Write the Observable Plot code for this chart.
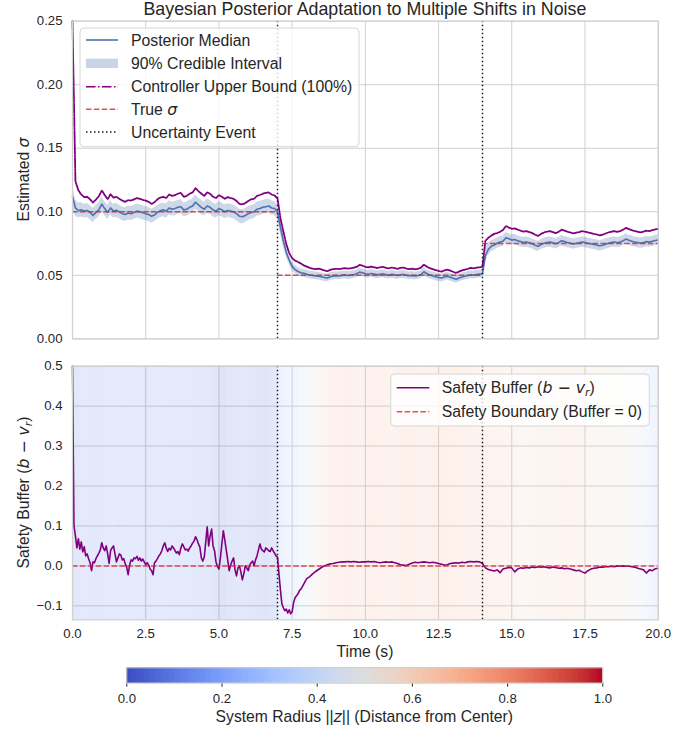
<!DOCTYPE html>
<html><head><meta charset="utf-8">
<script src="https://cdn.jsdelivr.net/npm/d3@7"></script>
<script src="https://cdn.jsdelivr.net/npm/@observablehq/plot@0.6"></script>
<style>
html,body{margin:0;padding:0;background:#fff;}
#fig{position:relative;width:697px;height:733px;overflow:hidden;font-family:"Liberation Sans",Arial,sans-serif;}
#fig svg{position:absolute;left:0;}
#overlay text{font-family:"Liberation Sans",Arial,sans-serif;fill:#262626;}
#overlay .m{font-family:"DejaVu Sans",sans-serif;font-style:italic;}
</style></head><body>
<div id="fig"></div>
<script>
// ---------- DATA ----------
// Posterior (top panel), sampled every 0.1 s from t = 0.0 to 20.0
const sigmaMedian = [
0.112,0.103,0.101,0.1015,0.1005,0.101,0.0995,0.097,0.0995,0.1015,
0.106,0.1025,0.0995,0.103,0.1005,0.1012,0.0998,0.0985,0.0978,0.099,
0.0985,0.0995,0.1005,0.1,0.0992,0.0985,0.0978,0.0965,0.0975,0.0995,
0.1008,0.1015,0.1005,0.103,0.102,0.1025,0.1035,0.104,0.1015,0.102,
0.1035,0.1045,0.1075,0.1055,0.1035,0.102,0.1045,0.1035,0.1015,0.1005,
0.1025,0.1015,0.1,0.101,0.1005,0.1,0.0985,0.0965,0.096,0.097,
0.0985,0.0995,0.1,0.102,0.1025,0.1035,0.104,0.1045,0.103,0.1025,
0.1,0.088,0.077,0.068,0.062,0.057,0.0545,0.053,0.052,0.0515,
0.0508,0.0502,0.0498,0.0495,0.0492,0.0488,0.0482,0.0478,0.0488,0.0494,
0.0497,0.0495,0.0499,0.0503,0.0498,0.0501,0.0505,0.0512,0.0525,0.052,
0.0512,0.0508,0.0514,0.0509,0.0503,0.0508,0.0512,0.0505,0.0501,0.0507,
0.0503,0.0498,0.0504,0.0507,0.05,0.0496,0.0499,0.0494,0.0498,0.0506,
0.0528,0.0512,0.0502,0.0496,0.0488,0.0482,0.0478,0.0486,0.0492,0.0484,
0.0476,0.0468,0.0478,0.0486,0.0492,0.0498,0.0504,0.0501,0.0506,0.0509,
0.0512,0.0655,0.0705,0.0728,0.0738,0.0752,0.0762,0.0768,0.0795,0.0788,
0.0778,0.0781,0.0772,0.0765,0.0758,0.0762,0.0755,0.0748,0.0736,0.0728,
0.0742,0.0752,0.0758,0.0762,0.0755,0.0748,0.0757,0.0772,0.0765,0.0758,
0.0752,0.0746,0.0751,0.0755,0.0762,0.0758,0.0752,0.0748,0.0742,0.0738,
0.0732,0.0736,0.0745,0.0752,0.0758,0.0762,0.0756,0.0761,0.0772,0.0785,
0.0776,0.0768,0.0762,0.0758,0.0752,0.0758,0.0765,0.0762,0.0768,0.0774,
0.0778];
const sigmaHigh = [
0.120,0.1095,0.1068,0.1072,0.106,0.1066,0.1052,0.1026,0.1049,0.1071,
0.1116,0.1079,0.1051,0.1086,0.1059,0.1068,0.1052,0.104,0.1032,0.1046,
0.1039,0.1051,0.106,0.1055,0.1048,0.1039,0.1034,0.1019,0.1031,0.1049,
0.1064,0.1069,0.1061,0.1086,0.1074,0.1081,0.1089,0.1096,0.1069,0.1076,
0.1089,0.1101,0.1131,0.1109,0.1091,0.1074,0.1101,0.1089,0.1071,0.1059,
0.1081,0.1069,0.1056,0.1064,0.1061,0.1054,0.1041,0.1019,0.1016,0.1024,
0.1041,0.1049,0.1056,0.1074,0.1081,0.1089,0.1096,0.1099,0.1086,0.1079,
0.1055,0.0935,0.0815,0.072,0.0655,0.0605,0.0578,0.0562,0.0552,0.0546,
0.0539,0.0532,0.0529,0.0525,0.0523,0.0518,0.0513,0.0508,0.0519,0.0524,
0.0528,0.0525,0.053,0.0533,0.0529,0.0531,0.0536,0.0542,0.0556,0.055,
0.0543,0.0538,0.0545,0.0539,0.0534,0.0538,0.0543,0.0535,0.0532,0.0537,
0.0534,0.0528,0.0535,0.0537,0.0531,0.0526,0.053,0.0524,0.0529,0.0536,
0.0559,0.0542,0.0533,0.0526,0.0519,0.0512,0.0509,0.0516,0.0523,0.0514,
0.0507,0.0498,0.0509,0.0516,0.0523,0.0528,0.0535,0.0531,0.0537,0.0539,
0.0545,0.0705,0.0752,0.0771,0.078,0.0793,0.0803,0.0809,0.0836,0.0829,
0.0818,0.0822,0.0812,0.0806,0.0798,0.0803,0.0795,0.0788,0.0777,0.0768,
0.0782,0.0793,0.0798,0.0803,0.0795,0.0789,0.0797,0.0813,0.0805,0.0799,
0.0792,0.0787,0.0791,0.0796,0.0802,0.0799,0.0792,0.0789,0.0782,0.0779,
0.0772,0.0777,0.0785,0.0793,0.0798,0.0803,0.0796,0.0802,0.0812,0.0826,
0.0816,0.0809,0.0802,0.0799,0.0792,0.0799,0.0805,0.0803,0.0808,0.0815,
0.0818];
const sigmaLow = [
0.104,0.0965,0.0952,0.0958,0.095,0.0954,0.0938,0.0914,0.0941,0.0959,
0.1004,0.0971,0.0939,0.0974,0.0951,0.0956,0.0944,0.093,0.0924,0.0934,
0.0931,0.0939,0.095,0.0945,0.0936,0.0931,0.0922,0.0911,0.0919,0.0941,
0.0952,0.0961,0.0949,0.0974,0.0966,0.0969,0.0981,0.0984,0.0961,0.0964,
0.0981,0.0989,0.1019,0.1001,0.0979,0.0966,0.0989,0.0981,0.0959,0.0951,
0.0969,0.0961,0.0944,0.0956,0.0949,0.0946,0.0929,0.0911,0.0904,0.0916,
0.0929,0.0941,0.0944,0.0966,0.0969,0.0981,0.0984,0.0991,0.0974,0.0971,
0.0945,0.0825,0.0725,0.064,0.0585,0.0535,0.0512,0.0498,0.0488,0.0484,
0.0478,0.0471,0.0468,0.0464,0.0462,0.0457,0.0452,0.0447,0.0458,0.0463,
0.0467,0.0464,0.0469,0.0472,0.0468,0.047,0.0475,0.0481,0.0495,0.0489,
0.0482,0.0477,0.0484,0.0478,0.0473,0.0477,0.0482,0.0474,0.0471,0.0476,
0.0473,0.0467,0.0474,0.0476,0.047,0.0465,0.0469,0.0463,0.0468,0.0475,
0.0498,0.0481,0.0472,0.0465,0.0458,0.0451,0.0448,0.0455,0.0462,0.0453,
0.0446,0.0437,0.0448,0.0455,0.0462,0.0467,0.0474,0.047,0.0476,0.0478,
0.0482,0.0605,0.0658,0.0685,0.0696,0.0711,0.0721,0.0727,0.0754,0.0747,
0.0738,0.074,0.0732,0.0724,0.0718,0.0721,0.0715,0.0708,0.0695,0.0688,
0.0702,0.0711,0.0718,0.0721,0.0715,0.0707,0.0717,0.0731,0.0725,0.0717,
0.0712,0.0705,0.0711,0.0714,0.0722,0.0717,0.0712,0.0707,0.0702,0.0697,
0.0692,0.0695,0.0705,0.0711,0.0718,0.0721,0.0716,0.072,0.0732,0.0744,
0.0736,0.0727,0.0722,0.0717,0.0712,0.0717,0.0725,0.0721,0.0728,0.0733,
0.0738];
const controllerUpper = [
0.25,0.124,0.117,0.1135,0.1115,0.1118,0.1098,0.1072,0.1096,0.1122,
0.1168,0.1132,0.1098,0.1138,0.1112,0.1118,0.1102,0.1088,0.1078,0.1092,
0.1088,0.1098,0.1108,0.1102,0.1094,0.1088,0.1078,0.1062,0.1075,0.1098,
0.1112,0.1118,0.1108,0.1136,0.1125,0.1131,0.1142,0.1148,0.1118,0.1125,
0.1142,0.1152,0.1186,0.1162,0.1142,0.1125,0.1152,0.1142,0.1118,0.1108,
0.1131,0.1118,0.1102,0.1115,0.1108,0.1102,0.1085,0.1062,0.1058,0.1068,
0.1085,0.1098,0.1102,0.1125,0.1132,0.1142,0.1148,0.1152,0.1136,0.1128,
0.1105,0.095,0.0845,0.0745,0.0675,0.0635,0.0615,0.0605,0.0592,0.0578,
0.0568,0.0558,0.0552,0.0548,0.0552,0.0546,0.0538,0.0532,0.0542,0.0548,
0.0551,0.0549,0.0553,0.0557,0.0552,0.0555,0.0559,0.0566,0.0581,0.0576,
0.0566,0.0562,0.0569,0.0563,0.0557,0.0562,0.0567,0.0559,0.0555,0.0561,
0.0557,0.0551,0.0558,0.0561,0.0553,0.0549,0.0552,0.0547,0.0551,0.056,
0.0584,0.0567,0.0556,0.0549,0.054,0.0534,0.0529,0.0538,0.0545,0.0536,
0.0527,0.0518,0.0529,0.0538,0.0545,0.0551,0.0558,0.0555,0.056,0.0563,
0.0567,0.0772,0.0795,0.0812,0.0826,0.0832,0.0842,0.0856,0.0888,0.0876,
0.0866,0.0869,0.0859,0.0851,0.0843,0.0848,0.084,0.0832,0.0819,0.081,
0.0826,0.0837,0.0843,0.0848,0.084,0.0832,0.0842,0.0859,0.0851,0.0843,
0.0837,0.083,0.0836,0.084,0.0848,0.0843,0.0837,0.0832,0.0826,0.0821,
0.0815,0.0819,0.0829,0.0837,0.0843,0.0848,0.0841,0.0847,0.0859,0.0873,
0.0863,0.0855,0.0848,0.0843,0.0837,0.0843,0.0851,0.0848,0.0855,0.0861,
0.0866];

// True sigma regimes and uncertainty events
const regimeStart = [0, 7, 14];
const regimeEnd = [7, 14, 20];
const trueSigma = [0.1, 0.05, 0.075];
const eventTimes = [7, 14];

// Safety buffer (bottom panel): every 0.05 s for t = 0..8, then every 0.1 s for t = 8.1..20
const bufferEarly = [
0.5,0.1,0.075,0.045,0.068,0.042,0.06,0.035,0.048,0.025,0.03,0.018,0.008,-0.012,0.01,0.008,0.018,0.025,0.032,0.04,
0.058,0.045,0.038,0.05,0.03,0.006,0.038,0.045,0.05,0.03,0.01,0.02,0.03,0.027,0.015,0.018,0.005,-0.003,-0.022,0.002,
0.015,0.012,0.02,0.018,0.024,0.014,0.02,0.012,0.017,0.01,0.003,0.008,0.002,-0.008,-0.012,-0.022,0.008,0.012,0.018,0.025,
0.03,0.038,0.05,0.058,0.045,0.036,0.044,0.04,0.05,0.045,0.038,0.032,0.036,0.028,0.045,0.055,0.048,0.04,0.042,0.037,
0.045,0.05,0.057,0.062,0.073,0.066,0.055,0.047,0.02,0.012,0.022,0.06,0.098,0.05,0.075,0.092,0.05,0.038,0.01,-0.002,
-0.008,0.02,0.055,0.088,0.065,0.04,0.015,-0.012,0.002,0.012,0.02,-0.01,-0.025,-0.005,0.0,-0.015,-0.035,-0.02,0.0,-0.005,
-0.012,0.002,0.008,0.012,0.0,0.015,0.025,0.04,0.055,0.042,0.038,0.035,0.045,0.042,0.038,0.036,0.045,0.038,0.032,0.025,
0.022,-0.02,-0.06,-0.095,-0.105,-0.112,-0.108,-0.118,-0.11,-0.12,-0.115,-0.092,-0.08,-0.075,-0.07,-0.062,-0.058,-0.052,-0.045,-0.038,
-0.032];
const bufferLate = [
-0.027,-0.02,-0.014,-0.009,-0.004,0.0,0.003,0.005,0.006,0.008,
0.009,0.01,0.01,0.011,0.01,0.011,0.01,0.009,0.01,0.01,
0.011,0.01,0.011,0.009,0.008,0.009,0.01,0.009,0.01,0.008,
0.006,0.003,0.002,0.001,0.004,0.007,0.009,0.008,0.009,0.01,
0.009,0.008,0.009,0.008,0.006,0.004,0.002,0.003,0.006,0.007,
0.008,0.007,0.009,0.008,0.01,0.011,0.01,0.011,0.01,0.006,
-0.005,-0.009,-0.011,-0.013,-0.01,-0.017,-0.008,-0.006,-0.004,-0.005,
-0.015,-0.008,-0.005,-0.006,-0.004,-0.005,-0.003,-0.004,-0.002,-0.003,
-0.002,-0.004,-0.005,-0.003,-0.004,-0.006,-0.005,-0.007,-0.006,-0.008,
-0.01,-0.012,-0.011,-0.015,-0.018,-0.012,-0.008,-0.006,-0.005,-0.003,
-0.003,-0.002,-0.002,-0.001,-0.002,0.0,-0.001,0.0,-0.001,-0.001,
-0.002,-0.003,-0.006,-0.008,-0.01,-0.018,-0.01,-0.012,-0.007,-0.006];

// System radius ||z|| in 0.25 s bins (background bands)
const systemRadius = [
0.10,0.13,0.14,0.12,0.14,0.15,0.13,0.15,
0.16,0.14,0.13,0.15,0.16,0.14,0.13,0.14,
0.13,0.12,0.11,0.09,0.05,0.08,0.10,0.11,
0.09,0.08,0.07,0.10,0.28,0.32,0.36,0.42,
0.48,0.56,0.62,0.66,0.67,0.68,0.66,0.65,
0.67,0.68,0.66,0.65,0.67,0.69,0.68,0.66,
0.66,0.68,0.70,0.69,0.67,0.66,0.67,0.65,
0.64,0.65,0.63,0.60,0.58,0.57,0.57,0.58,
0.59,0.60,0.62,0.64,0.62,0.58,0.55,0.55,
0.56,0.55,0.54,0.52,0.50,0.46,0.40,0.36];

// Tick values
const timeTicks = [0, 2.5, 5, 7.5, 10, 12.5, 15, 17.5, 20];
const sigmaTicks = [0, 0.05, 0.1, 0.15, 0.2, 0.25];
const bufferTicks = [-0.1, 0, 0.1, 0.2, 0.3, 0.4, 0.5];
const radiusTicks = [0, 0.2, 0.4, 0.6, 0.8, 1.0];

// coolwarm colormap stops (palette)
const coolwarm = ["#3b4cc0","#445acc","#4d68d7","#5775e1","#6282ea","#6c8ef1","#779af7","#82a5fb","#8db0fe","#98b9ff","#a3c2ff","#aec9fd","#b8d0f9","#c2d5f4","#ccd9ee","#d5dbe6","#dddddd","#e5d8d1","#ecd3c5","#f1ccb9","#f5c4ad","#f7bba0","#f7b194","#f7a687","#f49a7b","#f18d6f","#ec7f63","#e57058","#de604d","#d55042","#cb3e38","#c0282f","#b40426"];

// ---------- BUILD ----------
const FONT = '"Liberation Sans", Arial, sans-serif';
const BLUE = "#4c72b0", RED = "#d62728", PURPLE = "purple", GRID = "#d0d0d0", INK = "#262626";
const W = 697, ML = 72, MR = 39.3;

const sigmaRows = sigmaMedian.map((m, i) => ({t: i / 10, med: m, lo: sigmaLow[i], hi: sigmaHigh[i], up: controllerUpper[i]}));
const trueRows = trueSigma.map((s, i) => ({a: regimeStart[i], b: regimeEnd[i], s}));
const bufferRows = [
  ...bufferEarly.map((v, i) => ({t: i / 20, v})),
  ...bufferLate.map((v, i) => ({t: (81 + i) / 10, v}))
];
const radiusRows = systemRadius.map((r, i) => ({a: i * 0.25, b: Math.min(20, (i + 1) * 0.25 + 0.03), r}));
const cbRows = d3.range(0, 400).map(i => ({a: i / 400, b: Math.min(1, (i + 1.6) / 400), v: (i + 0.5) / 400}));

const colorScale = {type: "linear", domain: [0, 1], interpolate: d3.piecewise(d3.interpolateRgb, coolwarm)};
const style = {background: "transparent", fontFamily: FONT, fontSize: "13.2px", color: INK, overflow: "visible"};
const gridStyle = {stroke: GRID, strokeOpacity: 1, strokeWidth: 1};
const eventStyle = {stroke: "#1a1a1a", strokeWidth: 1.5, strokeDasharray: "1.5,2.5"};
const redDash = {stroke: RED, strokeOpacity: 0.8, strokeWidth: 1.5, strokeDasharray: "5.5,2.4"};

const topPlot = Plot.plot({
  width: W, height: 345,
  marginLeft: ML, marginRight: MR, marginTop: 20.7, marginBottom: 6.7,
  style,
  x: {domain: [0, 20], axis: null},
  y: {domain: [0, 0.25], ticks: sigmaTicks, tickFormat: ".2f", tickSize: 0, tickPadding: 10, label: null},
  marks: [
    Plot.ruleX(timeTicks, gridStyle),
    Plot.ruleY(sigmaTicks, gridStyle),
    Plot.areaY(sigmaRows, {x: "t", y1: "lo", y2: "hi", fill: BLUE, fillOpacity: 0.28}),
    Plot.line(sigmaRows, {x: "t", y: "med", stroke: BLUE, strokeWidth: 1.6}),
    Plot.line(sigmaRows, {x: "t", y: "up", stroke: PURPLE, strokeWidth: 1.8, strokeDasharray: "9.6,1.3,1.5,1.3"}),
    Plot.ruleY(trueRows, {y: "s", x1: "a", x2: "b", ...redDash}),
    Plot.ruleX(eventTimes, eventStyle),
    Plot.frame({stroke: GRID, strokeWidth: 1.25})
  ]
});

const botPlot = Plot.plot({
  width: W, height: 320,
  marginLeft: ML, marginRight: MR, marginTop: 20.7, marginBottom: 45.7,
  style,
  x: {domain: [0, 20], ticks: timeTicks, tickFormat: ".1f", tickSize: 0, tickPadding: 9, label: null},
  y: {domain: [-0.135, 0.5], ticks: bufferTicks, tickFormat: ".1f", tickSize: 0, tickPadding: 10, label: null},
  color: colorScale,
  marks: [
    Plot.ruleX(timeTicks, gridStyle),
    Plot.ruleY(bufferTicks, gridStyle),
    Plot.rect(radiusRows, {x1: "a", x2: "b", fill: "r"}),
    Plot.line(bufferRows, {x: "t", y: "v", stroke: PURPLE, strokeWidth: 1.6}),
    Plot.ruleY([0], redDash),
    Plot.ruleX(eventTimes, eventStyle),
    Plot.frame({stroke: GRID, strokeWidth: 1.25})
  ]
});
// whole band layer drawn translucent as one group
botPlot.querySelectorAll('g[aria-label="rect"]').forEach(g => g.setAttribute("opacity", 0.17));

const cbPlot = Plot.plot({
  width: W, height: 73,
  marginLeft: 126.3, marginRight: 94.7, marginTop: 7.3, marginBottom: 50.3,
  style,
  x: {domain: [0, 1], ticks: radiusTicks, tickFormat: ".1f", tickSize: 4, tickPadding: 6, label: null},
  color: colorScale,
  marks: [
    Plot.rect(cbRows, {x1: "a", x2: "b", fill: "v"}),
    Plot.frame({stroke: "#cccccc", strokeWidth: 1})
  ]
});

const fig = document.getElementById("fig");
topPlot.style.top = "0px";
botPlot.style.top = "345px";
cbPlot.style.top = "660px";
fig.append(topPlot, botPlot, cbPlot);

// ---------- TEXT, LABELS, LEGENDS ----------
fig.insertAdjacentHTML("beforeend", `
<svg id="overlay" width="697" height="733" style="top:0;left:0;position:absolute;pointer-events:none">
  <text x="364.9" y="15.3" font-size="17.8" text-anchor="middle">Bayesian Posterior Adaptation to Multiple Shifts in Noise</text>
  <text transform="translate(28.5,179.5) rotate(-90)" font-size="15.7" text-anchor="middle">Estimated <tspan class="m">σ</tspan></text>
  <text transform="translate(28.5,492.5) rotate(-90)" font-size="15.7" text-anchor="middle">Safety Buffer (<tspan class="m">b</tspan><tspan font-family="DejaVu Sans"> − </tspan><tspan class="m">v</tspan><tspan class="m" font-size="11" dy="3">r</tspan><tspan dy="-3">)</tspan></text>
  <text x="364.9" y="657" font-size="15.7" text-anchor="middle">Time (s)</text>
  <text x="364.3" y="722" font-size="15.7" text-anchor="middle">System Radius ||<tspan class="m">z</tspan>|| (Distance from Center)</text>

  <rect x="80" y="28" width="279" height="118.7" rx="4" fill="white" fill-opacity="0.8" stroke="#d6d6d6" stroke-width="1"/>
  <line x1="86" x2="118" y1="40" y2="40" stroke="${BLUE}" stroke-width="1.6"/>
  <rect x="86" y="58.6" width="32" height="9.4" fill="${BLUE}" fill-opacity="0.3"/>
  <line x1="86" x2="118" y1="86.7" y2="86.7" stroke="purple" stroke-width="1.6" stroke-dasharray="9.6,2.4,1.5,2.4"/>
  <line x1="86" x2="118" y1="109.3" y2="109.3" stroke="${RED}" stroke-opacity="0.8" stroke-width="1.5" stroke-dasharray="5.5,2.4"/>
  <line x1="86" x2="118" y1="132" y2="132" stroke="#1a1a1a" stroke-width="1.5" stroke-dasharray="1.5,2.5"/>
  <text x="131" y="45.6" font-size="15.8">Posterior Median</text>
  <text x="131" y="68.9" font-size="15.8">90% Credible Interval</text>
  <text x="131" y="92.3" font-size="15.8">Controller Upper Bound (100%)</text>
  <text x="131" y="114.9" font-size="15.8">True <tspan class="m">σ</tspan></text>
  <text x="131" y="137.6" font-size="15.8">Uncertainty Event</text>

  <rect x="390.7" y="374" width="258.6" height="52" rx="4" fill="white" fill-opacity="0.8" stroke="#d6d6d6" stroke-width="1"/>
  <line x1="396.7" x2="429.3" y1="387.7" y2="387.7" stroke="purple" stroke-width="1.6"/>
  <line x1="396.7" x2="429.3" y1="411.7" y2="411.7" stroke="${RED}" stroke-opacity="0.8" stroke-width="1.5" stroke-dasharray="5.5,2.4"/>
  <text x="441.7" y="393.3" font-size="15.8">Safety Buffer (<tspan class="m">b</tspan><tspan font-family="DejaVu Sans"> − </tspan><tspan class="m">v</tspan><tspan class="m" font-size="11" dy="3">r</tspan><tspan dy="-3">)</tspan></text>
  <text x="441.7" y="417.3" font-size="15.8">Safety Boundary (Buffer = 0)</text>
</svg>`);
</script>
</body></html>
